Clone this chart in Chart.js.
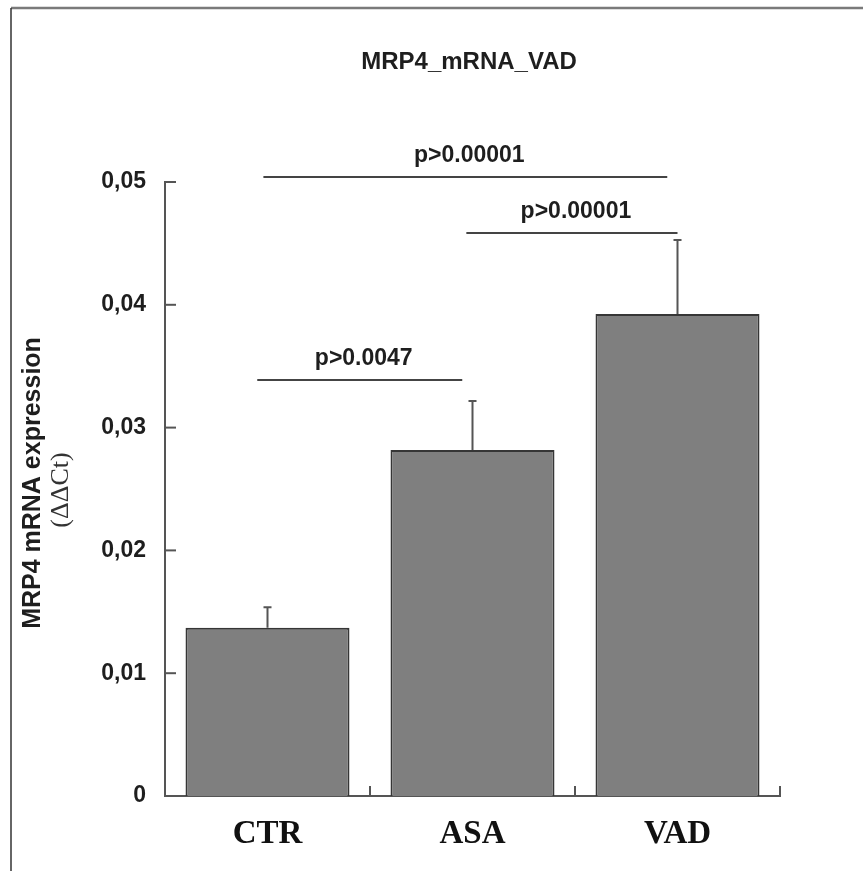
<!DOCTYPE html>
<html>
<head>
<meta charset="utf-8">
<title>MRP4_mRNA_VAD</title>
<script src="https://cdn.jsdelivr.net/npm/chart.js@4.4.1/dist/chart.umd.min.js"></script>
<style>
  body { margin: 0; background: #fff; }
  canvas { display: block; }
</style>
</head>
<body>
<canvas id="chart" width="863" height="871"></canvas>
<script>
var groups = ['CTR', 'ASA', 'VAD'];
var expression = [0.01371, 0.02818, 0.03925];
var sem = [0.00166, 0.00399, 0.00603];
var yTicks = [0, 0.01, 0.02, 0.03, 0.04, 0.05];

// significance brackets, ends given as category positions
var bracketFrom = [-0.02, 0.97, -0.05];
var bracketTo = [1.95, 2.0, 0.95];
var bracketLevel = [0.05041, 0.04585, 0.03388];
var bracketText = ['p>0.00001', 'p>0.00001', 'p>0.0047'];

var axisColor = '#555';
var textColor = '#1e1e1e';

var extras = {
  id: 'extras',
  afterDatasetsDraw: function (chart) {
    var ctx = chart.ctx;
    var x = chart.scales.x, y = chart.scales.y;
    var area = chart.chartArea;

    ctx.save();
    ctx.strokeStyle = axisColor;
    ctx.lineWidth = 2;

    // error bars
    var meta = chart.getDatasetMeta(0);
    meta.data.forEach(function (bar, i) {
      var top = y.getPixelForValue(expression[i] + sem[i]);
      ctx.beginPath();
      ctx.moveTo(bar.x, bar.y);
      ctx.lineTo(bar.x, top);
      ctx.moveTo(bar.x - 4, top);
      ctx.lineTo(bar.x + 4, top);
      ctx.stroke();
    });

    // inward tick marks
    yTicks.forEach(function (v) {
      var py = y.getPixelForValue(v);
      ctx.beginPath();
      ctx.moveTo(area.left, py);
      ctx.lineTo(area.left + 11, py);
      ctx.stroke();
    });
    for (var i = 0; i < groups.length; i++) {
      var px = x.getPixelForValue(i + 0.5);
      ctx.beginPath();
      ctx.moveTo(px, area.bottom);
      ctx.lineTo(px, area.bottom - 10);
      ctx.stroke();
    }

    // brackets
    ctx.strokeStyle = '#444';
    ctx.fillStyle = textColor;
    ctx.font = 'bold 23px "Liberation Sans", Arial, sans-serif';
    ctx.textAlign = 'center';
    ctx.textBaseline = 'middle';
    for (var b = 0; b < bracketText.length; b++) {
      var x1 = x.getPixelForValue(bracketFrom[b]);
      var x2 = x.getPixelForValue(bracketTo[b]);
      var by = y.getPixelForValue(bracketLevel[b]);
      ctx.beginPath();
      ctx.moveTo(x1, by);
      ctx.lineTo(x2, by);
      ctx.stroke();
      ctx.fillText(bracketText[b], (x1 + x2) / 2 + 4, by - 21);
    }

    // title
    ctx.font = 'bold 24px "Liberation Sans", Arial, sans-serif';
    ctx.fillText('MRP4_mRNA_VAD', 469, 62);

    // y axis title
    ctx.save();
    ctx.translate(33, 483);
    ctx.rotate(-Math.PI / 2);
    ctx.font = 'bold 25px "Liberation Sans", Arial, sans-serif';
    ctx.fillText('MRP4 mRNA expression', 0, 0);
    ctx.font = '26px "Liberation Serif", "Times New Roman", serif';
    ctx.fillStyle = '#333';
    ctx.fillText('(\u0394\u0394Ct)', -7, 28);
    ctx.restore();

    // frame around the figure
    ctx.strokeStyle = '#7a7a7a';
    ctx.lineWidth = 2.5;
    ctx.beginPath();
    ctx.moveTo(11, 8);
    ctx.lineTo(863, 8);
    ctx.stroke();
    ctx.strokeStyle = '#333';
    ctx.lineWidth = 1.5;
    ctx.beginPath();
    ctx.moveTo(11, 8);
    ctx.lineTo(11, 871);
    ctx.stroke();
    ctx.restore();
  }
};

new Chart(document.getElementById('chart'), {
  type: 'bar',
  data: {
    labels: groups,
    datasets: [{
      data: expression,
      backgroundColor: '#7f7f7f',
      borderColor: '#363636',
      borderWidth: 2,
      borderSkipped: 'bottom',
      categoryPercentage: 1,
      barPercentage: 0.8
    }]
  },
  options: {
    responsive: false,
    animation: false,
    layout: { padding: { top: 182, right: 83, left: 0, bottom: 0 } },
    plugins: {
      legend: { display: false },
      title: { display: false },
      tooltip: { enabled: false }
    },
    scales: {
      x: {
        grid: { display: false, drawTicks: false },
        border: { display: true, color: axisColor, width: 2 },
        ticks: {
          color: '#111',
          padding: 19,
          font: { family: '"Liberation Serif", "Times New Roman", serif', size: 33, weight: 'bold' }
        },
        afterFit: function (scale) { scale.height = 75; }
      },
      y: {
        min: 0,
        max: 0.05,
        grid: { display: false, drawTicks: false },
        border: { display: true, color: axisColor, width: 2 },
        afterBuildTicks: function (scale) {
          scale.ticks = yTicks.map(function (v) { return { value: v }; });
        },
        ticks: {
          color: textColor,
          padding: 19,
          font: { family: '"Liberation Sans", Arial, sans-serif', size: 23, weight: 'bold' },
          callback: function (v) { return v === 0 ? '0' : v.toFixed(2).replace('.', ','); }
        },
        afterFit: function (scale) { scale.width = 165; }
      }
    }
  },
  plugins: [extras]
});
</script>
</body>
</html>
